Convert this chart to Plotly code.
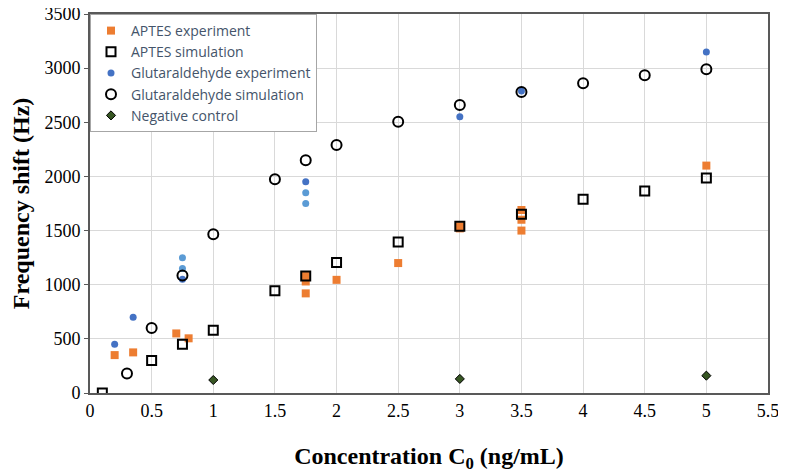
import plotly.graph_objects as go

# APTES experiment
aptes_exp_x = [0.2, 0.35, 0.7, 0.8, 1.75, 1.75, 1.75, 2, 2.5, 3, 3, 3.5, 3.5, 3.5, 5]
aptes_exp_y = [350, 375, 550, 505, 1080, 1030, 920, 1045, 1200, 1520, 1540, 1690, 1600, 1500, 2100]

# APTES simulation
aptes_sim_x = [0.1, 0.5, 0.75, 1, 1.5, 1.75, 2, 2.5, 3, 3.5, 4, 4.5, 5]
aptes_sim_y = [0, 300, 450, 580, 945, 1080, 1205, 1395, 1540, 1650, 1790, 1865, 1985]

# Glutaraldehyde experiment (two shades of blue in the original)
glu_exp_x = [0.2, 0.35, 0.75, 0.75, 0.75, 1.75, 1.75, 1.75, 3, 3.5, 5]
glu_exp_y = [450, 700, 1250, 1150, 1050, 1950, 1850, 1750, 2550, 2790, 3150]
glu_exp_c = ['#4472C4', '#4472C4', '#5B9BD5', '#5B9BD5', '#4472C4', '#4472C4',
             '#5B9BD5', '#5B9BD5', '#4472C4', '#4472C4', '#4472C4']

# Glutaraldehyde simulation
glu_sim_x = [0.3, 0.5, 0.75, 1, 1.5, 1.75, 2, 2.5, 3, 3.5, 4, 4.5, 5]
glu_sim_y = [180, 600, 1085, 1465, 1975, 2150, 2290, 2505, 2660, 2780, 2860, 2935, 2990]

# Negative control
neg_x = [1, 3, 5]
neg_y = [120, 130, 160]

fig = go.Figure()
fig.add_trace(go.Scatter(x=aptes_exp_x, y=aptes_exp_y, mode='markers', name='APTES experiment',
                         marker=dict(symbol='square', size=8, color='#ED7D31')))
fig.add_trace(go.Scatter(x=aptes_sim_x, y=aptes_sim_y, mode='markers', name='APTES simulation',
                         marker=dict(symbol='square-open', size=9, color='black', line=dict(width=2))))
fig.add_trace(go.Scatter(x=glu_exp_x, y=glu_exp_y, mode='markers', name='Glutaraldehyde experiment',
                         marker=dict(symbol='circle', size=7, color=glu_exp_c)))
fig.add_trace(go.Scatter(x=glu_sim_x, y=glu_sim_y, mode='markers', name='Glutaraldehyde simulation',
                         marker=dict(symbol='circle-open', size=10, color='black', line=dict(width=2))))
fig.add_trace(go.Scatter(x=neg_x, y=neg_y, mode='markers', name='Negative control',
                         marker=dict(symbol='diamond', size=7, color='#375623', line=dict(width=1, color='black'))))

# page body adds an 8px margin, so the figure sits at (8, 8)
axis_font = dict(family='Liberation Serif', size=18, color='black')
title_font = dict(family='Liberation Serif', size=24, color='black')
fig.update_layout(
    width=778, height=465,
    margin=dict(l=82, r=18, t=6, b=80),
    plot_bgcolor='white', paper_bgcolor='white',
    showlegend=True,
    legend=dict(x=0, y=1, xanchor='left', yanchor='top',
                bgcolor='white', bordercolor='#A6A6A6', borderwidth=1,
                font=dict(family='Open Sans', size=14, color='#44546A')),
    xaxis=dict(range=[0, 5.5], dtick=0.5, showgrid=True, gridcolor='#D9D9D9',
               showline=True, linecolor='#595959', linewidth=2, mirror=True,
               ticks='', tickfont=axis_font, zeroline=False, automargin=False,
               ticklabeloverflow='allow',
               title=dict(text='<b>Concentration C<sub>0</sub> (ng/mL)</b>',
                          font=title_font, standoff=30)),
    yaxis=dict(range=[0, 3500], dtick=500, showgrid=True, gridcolor='#D9D9D9',
               showline=True, linecolor='#595959', linewidth=2, mirror=True,
               ticks='outside', ticklen=4, tickcolor='#595959', tickfont=axis_font, zeroline=False,
               automargin=False, ticklabeloverflow='allow',
               title=dict(text='<b>Frequency shift (Hz)</b>', font=title_font, standoff=18)),
)

fig.write_html("out.html")
